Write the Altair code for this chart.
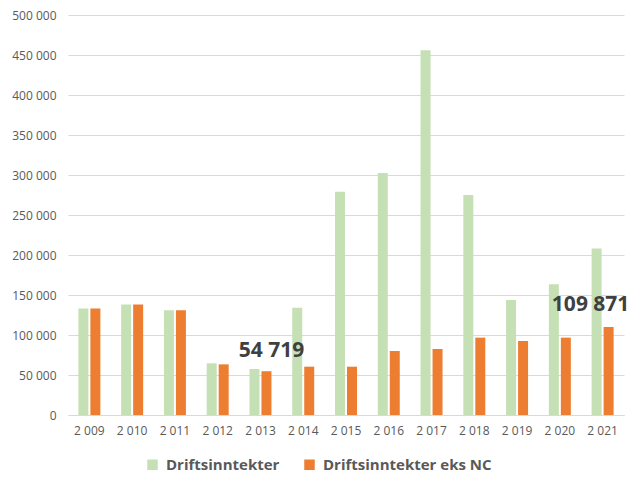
import altair as alt
import pandas as pd

years = ["2 009", "2 010", "2 011", "2 012", "2 013", "2 014", "2 015",
         "2 016", "2 017", "2 018", "2 019", "2 020", "2 021"]
drift = [133000, 138000, 131000, 64600, 57500, 134000, 279000,
         302500, 456000, 275000, 143800, 163300, 208000]
drift_eks_nc = [133000, 138000, 131000, 63300, 54719, 60400, 60400,
                80000, 82500, 96700, 92500, 96700, 109871]
series = ["Driftsinntekter", "Driftsinntekter eks NC"]
colors = ["#C5E0B4", "#ED7D31"]
y_ticks = [0, 50000, 100000, 150000, 200000, 250000, 300000, 350000, 400000, 450000, 500000]

rows = []
for i, y in enumerate(years):
    rows.append({"year": y, "series": series[0], "value": drift[i]})
    rows.append({"year": y, "series": series[1], "value": drift_eks_nc[i]})
df = pd.DataFrame(rows)

x_enc = alt.X("year:N", sort=years, title=None,
              scale=alt.Scale(paddingInner=0.486, paddingOuter=0.243),
              axis=alt.Axis(labelAngle=0, labelColor="#595959", labelFontSize=12,
                            labelFont="Open Sans", ticks=False, domain=True,
                            domainColor="#D9D9D9", labelPadding=10, grid=False))
xoff = alt.XOffset("series:N", sort=series,
                   scale=alt.Scale(paddingInner=0.167, paddingOuter=0))
y_enc = alt.Y("value:Q", title=None,
              scale=alt.Scale(domain=[0, 500000], nice=False),
              axis=alt.Axis(values=y_ticks, format=",d",
                            labelOverlap=False,
                            labelColor="#595959", labelFontSize=12, labelFont="Open Sans",
                            ticks=False, domain=False, gridColor="#D9D9D9",
                            labelPadding=12))

bars = alt.Chart(df).mark_bar().encode(
    x=x_enc,
    xOffset=xoff,
    y=y_enc,
    color=alt.Color("series:N", sort=series,
                    scale=alt.Scale(domain=series, range=colors),
                    legend=alt.Legend(title=None, orient="none", direction="horizontal",
                                      legendX=77, legendY=442, symbolType="square",
                                      symbolSize=110, symbolStrokeWidth=0,
                                      labelFontSize=15, labelFontWeight="bold",
                                      labelFont="Open Sans", labelColor="#595959",
                                      labelLimit=400,
                                      columnPadding=22, labelOffset=6)),
)

def label(year_value, dx, dy):
    return alt.Chart(df).transform_filter(
        (alt.datum.year == year_value) & (alt.datum.series == series[1])
    ).mark_text(fontSize=21, fontWeight="bold", font="Open Sans", color="#404040",
                dx=dx, dy=dy, baseline="middle").encode(
        x=x_enc,
        xOffset=xoff,
        y=y_enc,
        text=alt.Text("value:Q", format=",d"),
    )

chart = alt.layer(bars, label("2 013", 5, -20), label("2 021", -18, -22)).properties(
    width=556, height=400,
    autosize=alt.AutoSizeParams(type="none"),
    padding={"left": 60, "top": 7, "right": 6, "bottom": 58},
).configure(
    locale=alt.Locale(number=alt.NumberLocale(decimal=",", thousands=" ",
                                              grouping=[3], currency=["", ""])),
    view=alt.ViewConfig(stroke=None),
)

chart.save("out.html", embed_options={"renderer": "svg", "actions": False})
